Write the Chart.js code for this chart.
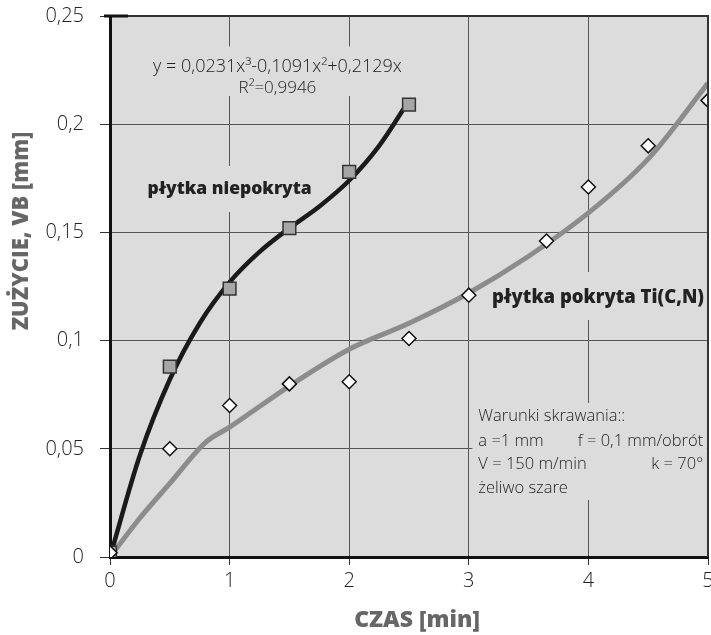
<!DOCTYPE html>
<html>
<head>
<meta charset="utf-8">
<script src="https://cdn.jsdelivr.net/npm/chart.js@4.4.1/dist/chart.umd.min.js"></script>
<style>
  html, body { margin: 0; padding: 0; background: #fff; }
  #wrap { width: 711px; height: 635px; }
</style>
</head>
<body>
<div id="wrap"><canvas id="wear_chart" width="711" height="635"></canvas></div>
<script>
// DATA
const czas_uncoated = [0, 0.5, 1, 1.5, 2, 2.5];
const vb_uncoated = [0.002, 0.088, 0.124, 0.152, 0.178, 0.209];

const czas_coated = [0, 0.5, 1, 1.5, 2, 2.5, 3, 3.65, 4, 4.5, 5];
const vb_coated = [0.002, 0.05, 0.07, 0.08, 0.081, 0.101, 0.121, 0.146, 0.171, 0.19, 0.211];

// trend curves as they appear in the picture
const trend_uncoated_x = [0, 0.25, 0.5, 0.75, 1, 1.25, 1.5, 1.75, 2, 2.25, 2.5];
const trend_uncoated_y = [0, 0.047, 0.082, 0.108, 0.127, 0.141, 0.152, 0.162, 0.174, 0.19, 0.211];

const trend_coated_x = [0, 0.25, 0.5, 0.8, 1, 1.5, 2, 2.5, 3, 3.5, 4, 4.5, 5];
const trend_coated_y = [0, 0.018, 0.034, 0.053, 0.06, 0.079, 0.096, 0.108, 0.122, 0.139, 0.159, 0.184, 0.219];

const x_tick_labels = ['0', '1', '2', '3', '4', '5'];
const y_tick_labels = ['0', '0,05', '0,1', '0,15', '0,2', '0,25'];

const x_title = 'CZAS [min]';
const y_title = 'ZUŻYCIE, VB [mm]';
const equation_lines = ['y = 0,0231x³-0,1091x²+0,2129x', 'R²=0,9946'];
const label_uncoated = 'płytka niepokryta';
const label_coated = 'płytka pokryta Ti(C,N)';
const conditions = [
	['Warunki skrawania::', ''],
	['a =1 mm', 'f = 0,1 mm/obrót'],
	['V = 150 m/min', 'k = 70°'],
	['żeliwo szare', '']
];

const PLOT_BG = '#dcdcdc';
const THIN_FONT = '"Open Sans", sans-serif';

function toPoints(xs, ys){
	return xs.map((x, i) => ({ x: x, y: ys[i] }));
}

// PLOT BACKGROUND + FRAME
const frame_plugin = {
	id: 'frame',
	beforeDraw(chart){
		const { ctx, chartArea: a } = chart;
		ctx.save();
		ctx.fillStyle = PLOT_BG;
		ctx.fillRect(a.left, a.top, a.right - a.left, a.bottom - a.top);
		ctx.restore();
	},
	afterDraw(chart){
		const { ctx, chartArea: a } = chart;
		ctx.save();
		ctx.strokeStyle = '#333';
		ctx.lineWidth = 2;
		ctx.beginPath();
		ctx.moveTo(a.left, a.top);
		ctx.lineTo(a.right, a.top);
		ctx.lineTo(a.right, a.bottom);
		ctx.stroke();
		ctx.strokeStyle = '#111';
		ctx.lineWidth = 3;
		ctx.beginPath();
		ctx.moveTo(a.left - 6, a.top);
		ctx.lineTo(a.left + 18, a.top);
		ctx.stroke();
		ctx.restore();
	}
};

// TEXT BOXES INSIDE THE PLOT (they hide the grid behind them)
const notes_plugin = {
	id: 'notes',
	beforeDatasetsDraw(chart){
		const { ctx, scales: { x, y } } = chart;
		const box = (x0, y0, x1, y1) => {
			ctx.fillStyle = PLOT_BG;
			const px0 = x.getPixelForValue(x0), px1 = x.getPixelForValue(x1);
			const py0 = y.getPixelForValue(y0), py1 = y.getPixelForValue(y1);
			ctx.fillRect(px0, py0, px1 - px0, py1 - py0);
		};
		ctx.save();
		box(0.32, 0.236, 2.52, 0.213);
		box(0.2, 0.1807, 1.8, 0.1594);
		box(3.1, 0.1317, 4.95, 0.1095);
		box(3.03, 0.0712, 4.99, 0.0263);

		ctx.fillStyle = '#222';
		ctx.textBaseline = 'middle';
		ctx.textAlign = 'center';
		ctx.font = '300 18px ' + THIN_FONT;
		ctx.fillText(equation_lines[0], x.getPixelForValue(1.4), y.getPixelForValue(0.2264));
		ctx.font = '300 17px ' + THIN_FONT;
		ctx.fillText(equation_lines[1], x.getPixelForValue(1.4), y.getPixelForValue(0.2167));

		ctx.font = '800 17.5px "Open Sans", sans-serif';
		ctx.fillText(label_uncoated, x.getPixelForValue(1.0), y.getPixelForValue(0.170));
		ctx.font = '800 18.5px "Open Sans", sans-serif';
		ctx.fillText(label_coated, x.getPixelForValue(4.08), y.getPixelForValue(0.120));

		ctx.font = '300 16.5px ' + THIN_FONT;
		const rows_y = [0.0652, 0.0536, 0.0430, 0.0319];
		conditions.forEach((row, i) => {
			ctx.textAlign = 'left';
			ctx.fillText(row[0], x.getPixelForValue(3.08), y.getPixelForValue(rows_y[i]));
			if(row[1]){
				ctx.textAlign = 'right';
				ctx.fillText(row[1], x.getPixelForValue(4.96), y.getPixelForValue(rows_y[i]));
			}
		});
		ctx.restore();
	},
	afterDraw(chart){
		const { ctx } = chart;
		ctx.save();
		ctx.fillStyle = '#666';
		ctx.textAlign = 'center';
		ctx.textBaseline = 'middle';
		ctx.font = '800 23px "Open Sans", sans-serif';
		ctx.fillText(x_title, 417, 620);
		ctx.translate(22, 231);
		ctx.rotate(-Math.PI / 2);
		ctx.font = '800 22px "Open Sans", sans-serif';
		ctx.fillText(y_title, 0, 0);
		ctx.restore();
	}
};

const ctx = document.getElementById('wear_chart').getContext('2d');

const my_chart = new Chart(ctx, {
	type: 'scatter',
	data: {
		datasets: [{
			label: 'trend niepokryta',
			data: toPoints(trend_uncoated_x, trend_uncoated_y),
			showLine: true,
			pointRadius: 0,
			borderColor: '#1a1a1a',
			borderWidth: 4.5,
			cubicInterpolationMode: 'monotone',
			order: 2
		},{
			label: 'trend pokryta',
			data: toPoints(trend_coated_x, trend_coated_y),
			showLine: true,
			pointRadius: 0,
			borderColor: '#8c8c8c',
			borderWidth: 5,
			cubicInterpolationMode: 'monotone',
			order: 2
		},{
			label: 'płytka niepokryta',
			data: toPoints(czas_uncoated, vb_uncoated),
			pointStyle: 'rect',
			pointRadius: 9,
			backgroundColor: '#a6a6a6',
			borderColor: '#333',
			borderWidth: 1.5,
			order: 1
		},{
			label: 'płytka pokryta Ti(C,N)',
			data: toPoints(czas_coated, vb_coated),
			pointStyle: 'rectRot',
			pointRadius: 7,
			backgroundColor: '#fff',
			borderColor: '#111',
			borderWidth: 1.5,
			order: 0
		}]
	},
	options: {
		responsive: false,
		animation: false,
		layout: { autoPadding: false, padding: { top: 16, right: 3, left: 0, bottom: 0 } },
		plugins: {
			legend: { display: false },
			tooltip: { enabled: false }
		},
		scales: {
			x: {
				type: 'linear',
				min: 0,
				max: 5,
				ticks: {
					stepSize: 1,
					color: '#222',
					padding: 4,
					font: { family: 'Open Sans', weight: '300', size: 20 },
					callback: (v) => x_tick_labels[Math.round(v)]
				},
				grid: { color: '#555', lineWidth: 1, tickLength: 8, tickColor: '#333' },
				border: { color: '#111', width: 3 },
				afterFit(scale){
					scale.height = 78;
					scale.paddingLeft = 0;
					scale.paddingRight = 0;
				}
			},
			y: {
				type: 'linear',
				min: 0,
				max: 0.25,
				ticks: {
					stepSize: 0.05,
					color: '#222',
					padding: 16,
					font: { family: 'Open Sans', weight: '300', size: 20 },
					callback: (v) => y_tick_labels[Math.round(v * 20)]
				},
				grid: { color: '#555', lineWidth: 1, tickLength: 10, tickColor: '#333' },
				border: { color: '#111', width: 3 },
				afterFit(scale){
					scale.width = 110;
					scale.paddingTop = 0;
					scale.paddingBottom = 0;
				}
			}
		}
	},
	plugins: [frame_plugin, notes_plugin]
});
</script>
</body>
</html>
